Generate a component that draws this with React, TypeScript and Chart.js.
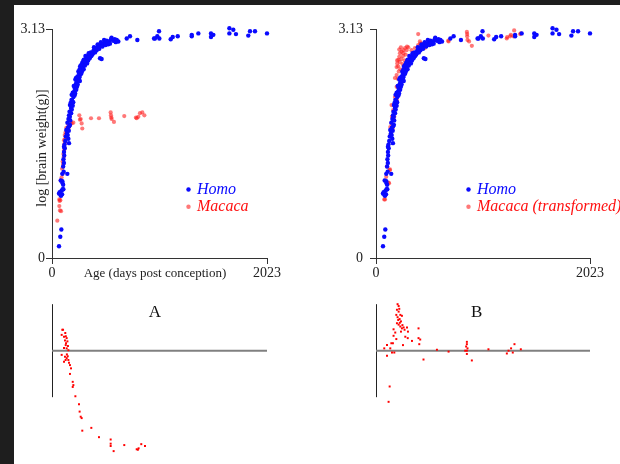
import React, { useEffect, useRef } from 'react';
import { Chart, registerables } from 'chart.js';
Chart.register(...registerables);

const X_MAX = 2023;
const Y_MAX = 3.13;
const xTickLabels = ['0', '2023'];
const yTickLabels = ['0', '3.13'];
const xAxisTitle = 'Age (days post conception)';
const yAxisTitle = 'log [brain weight(g)]';
const legendHomo = 'Homo';
const legendMacacaA = 'Macaca';
const legendMacacaB = 'Macaca (transformed)';
const panelA = 'A';
const panelB = 'B';

// Homo sapiens: [days post conception, log brain weight]
const homo: number[][] = [
  [66, 0.16], [78, 0.29], [88, 0.39],
  [66, 0.88], [72, 0.9], [80, 0.86], [90, 0.92], [95, 0.87], [100, 0.94], [107, 0.94], [85, 0.85],
  [82, 1.06], [97, 1.05], [100, 1.02], [105, 1.0],
  [97, 1.15], [144, 1.15], [110, 1.18],
  [105, 1.25], [112, 1.3], [108, 1.35], [115, 1.4], [113, 1.45], [120, 1.5], [113, 1.52], [118, 1.55], [160, 1.57], [125, 1.6],
  [154, 1.63], [130, 1.66], [140, 1.7], [135, 1.75], [150, 1.78], [169, 1.82], [145, 1.85], [160, 1.95], [155, 1.9],
  [165, 2.0], [179, 2.05], [169, 2.09], [175, 2.12], [190, 2.15], [201, 2.2], [185, 2.23], [195, 2.26], [210, 2.28],
  [216, 2.32], [205, 2.35], [225, 2.38], [232, 2.41], [220, 2.44], [226, 2.46], [240, 2.48], [263, 2.5], [248, 2.55],
  [255, 2.52], [270, 2.56], [279, 2.59], [265, 2.62], [290, 2.61], [295, 2.64], [285, 2.67], [305, 2.66], [311, 2.68],
  [300, 2.71], [320, 2.7], [326, 2.73], [315, 2.76], [335, 2.74], [342, 2.75], [350, 2.79], [357, 2.77], [365, 2.81],
  [373, 2.8], [380, 2.78], [389, 2.83], [400, 2.85], [395, 2.88], [414, 2.86], [420, 2.84], [436, 2.89], [430, 2.92],
  [450, 2.9], [467, 2.92], [460, 2.95], [480, 2.93], [499, 2.95], [490, 2.98], [515, 2.97], [530, 2.92], [540, 2.96],
  [555, 2.99], [560, 3.01], [577, 2.97], [590, 2.99], [609, 2.98], [624, 2.96], [452, 2.73], [467, 2.72],
  [148, 1.68], [158, 1.74], [162, 1.8], [172, 1.88], [168, 1.93], [180, 1.98], [186, 2.03], [195, 2.08], [183, 2.16],
  [200, 2.13], [212, 2.22], [218, 2.25], [228, 2.3], [235, 2.34], [242, 2.37], [238, 2.42], [250, 2.45], [258, 2.47],
  [262, 2.42], [275, 2.52], [282, 2.55], [260, 2.58], [298, 2.58], [275, 2.64], [310, 2.63], [330, 2.66], [296, 2.7],
  [340, 2.7], [355, 2.73], [345, 2.8], [370, 2.76], [385, 2.8], [405, 2.81], [425, 2.88], [445, 2.86], [475, 2.89],
  [505, 2.91], [520, 2.94], [545, 2.93], [600, 2.95],
  [703, 3.0], [734, 3.03], [803, 2.98], [960, 3.0], [969, 3.0], [991, 3.03], [1007, 3.1], [1010, 3.0], [1117, 2.99],
  [1136, 3.02], [1183, 3.03], [1315, 3.05], [1315, 3.03], [1377, 3.07], [1496, 3.07], [1518, 3.05], [1496, 3.02],
  [1669, 3.14], [1706, 3.12], [1669, 3.07], [1731, 3.06], [1863, 3.1], [1847, 3.04], [1910, 3.1], [2023, 3.07],
];

// Macaca: [days post conception, log brain weight]
const macaca: number[][] = [
  [50, 0.51], [69, 0.71], [75, 0.65], [69, 0.8], [72, 0.78], [78, 0.79], [85, 0.64],
  [82, 1.06], [90, 1.1], [100, 1.15], [95, 1.22], [105, 1.28], [100, 1.32], [110, 1.38], [107, 1.42], [113, 1.47],
  [120, 1.5], [115, 1.55], [122, 1.58], [113, 1.61], [125, 1.63], [130, 1.66], [120, 1.68], [138, 1.7], [128, 1.72],
  [145, 1.74], [154, 1.77], [135, 1.78], [160, 1.8], [169, 1.82], [150, 1.83], [185, 1.84], [201, 1.85], [175, 1.86],
  [257, 1.95], [263, 1.89], [270, 1.9], [279, 1.84], [285, 1.77], [367, 1.91], [442, 1.91], [552, 1.99], [555, 1.95],
  [558, 1.92], [561, 1.9], [583, 1.86], [680, 1.94], [790, 1.92], [797, 1.91], [812, 1.93], [828, 1.98], [850, 1.99],
  [869, 1.95],
];

// Macaca, transformed onto the human time scale
const macacaTransformed: number[][] = [
  [78, 0.8], [85, 0.8], [97, 1.11], [104, 1.25], [119, 1.03], [123, 1.02], [129, 1.2], [132, 1.21], [135, 1.79],
  [138, 1.68], [147, 1.84], [147, 2.09], [151, 1.93], [157, 1.77], [163, 2.02], [173, 1.93], [179, 2.2], [189, 2.07],
  [198, 2.16], [195, 2.34], [179, 2.46], [195, 2.5], [195, 2.61], [201, 2.66], [211, 2.71], [220, 2.75], [226, 2.8],
  [242, 2.82], [258, 2.84], [274, 2.87], [289, 2.84], [305, 2.88], [336, 2.84], [368, 2.87], [399, 2.91], [399, 3.06],
  [415, 2.96], [430, 2.93], [462, 2.87], [293, 2.89], [418, 2.93],
  [210, 2.62], [225, 2.68], [240, 2.72], [255, 2.76], [270, 2.7], [260, 2.8], [230, 2.58], [215, 2.55], [205, 2.45],
  [250, 2.65], [280, 2.78], [220, 2.85], [235, 2.88], [200, 2.7],
  [557, 2.98], [569, 2.98], [683, 2.97], [686, 2.96], [859, 3.09], [862, 3.06], [862, 3.03], [865, 2.98], [880, 2.96],
  [906, 2.9], [1063, 3.04], [1236, 3.0], [1240, 3.02], [1268, 3.03], [1275, 3.05], [1306, 3.11], [1300, 3.03],
  [1369, 3.07], [1362, 3.06],
];

// Residuals (arbitrary units), panel A
const residualA: number[][] = [
  [97, 0.45], [104, 0.45], [91, 0.34], [113, 0.3], [130, 0.31], [138, 0.27], [122, 0.22], [145, 0.2], [129, 0.12],
  [113, 0.06], [138, 0.05], [154, 0.01], [91, -0.09], [122, -0.13], [138, -0.16], [154, -0.2], [113, -0.24],
  [160, -0.26], [169, -0.31], [179, -0.38], [169, -0.5], [195, -0.67], [201, -0.74], [195, -0.78], [220, -0.98],
  [254, -1.15], [260, -1.31], [270, -1.42], [279, -1.45], [370, -1.66], [285, -1.72], [442, -1.86], [552, -1.91],
  [552, -2.0], [552, -2.05], [580, -2.16], [680, -2.03], [797, -2.12], [815, -2.1], [808, -2.13], [840, -2.01],
  [875, -2.05], [125, 0.38], [132, 0.16], [140, -0.08], [148, -0.12], [150, 0.1], [128, -0.2],
];

// Residuals (arbitrary units), panel B
const residualB: number[][] = [
  [204, 1.0], [214, 0.96], [198, 0.88], [214, 0.84], [192, 0.77], [230, 0.77], [245, 0.75], [204, 0.72], [223, 0.68],
  [236, 0.63], [198, 0.59], [214, 0.56], [230, 0.52], [245, 0.48], [261, 0.5], [293, 0.5], [302, 0.41], [236, 0.41],
  [166, 0.46], [182, 0.39], [277, 0.3], [300, 0.27], [166, 0.32], [192, 0.25], [160, 0.16], [145, 0.16], [104, 0.12],
  [78, 0.05], [135, 0.05], [151, -0.04], [173, -0.04], [104, -0.11], [255, 0.12], [340, 0.21], [402, 0.48],
  [402, 0.27], [418, 0.24], [409, 0.14], [449, -0.19], [576, 0.02], [686, -0.02], [859, 0.19], [859, 0.14],
  [852, 0.09], [865, 0.05], [859, 0.0], [843, 0.0], [859, -0.07], [906, -0.21], [1063, 0.03], [1237, -0.06],
  [1253, 0.0], [1277, 0.05], [1293, -0.04], [1309, 0.14], [1369, 0.03], [129, -0.77], [119, -1.1],
  [210, 0.66], [220, 0.9], [225, 0.6], [250, 0.55], [270, 0.45],
];

const SERIF = '"Liberation Serif", "Times New Roman", serif';
const BLUE = '#0a0aff';
const RED_SOFT = 'rgba(255,30,30,0.6)';
const RED = '#ff0000';

const toPts = (arr: number[][]) => arr.map(([x, y]) => ({ x, y }));

type TopOpts = {
  padLeft: number;
  padRight: number;
  yTickPad: number;
  redData: number[][];
  redLabel: string;
  showTitles: boolean;
  legendX: number;
};

function topConfig(o: TopOpts): any {
  const textPlugin = {
    id: 'texts',
    afterDraw(chart: any) {
      const ctx = chart.ctx;
      const ca = chart.chartArea;
      ctx.save();
      if (o.showTitles) {
        ctx.fillStyle = '#222';
        ctx.font = `14px ${SERIF}`;
        ctx.textAlign = 'center';
        ctx.textBaseline = 'middle';
        ctx.save();
        ctx.translate(42, 148);
        ctx.rotate(-Math.PI / 2);
        ctx.fillText(yAxisTitle, 0, 0);
        ctx.restore();
        ctx.font = `13px ${SERIF}`;
        ctx.textBaseline = 'alphabetic';
        ctx.fillText(xAxisTitle, 155, 277);
      }
      // legend
      const lx = o.legendX;
      ctx.textAlign = 'left';
      ctx.textBaseline = 'alphabetic';
      ctx.font = `italic 16px ${SERIF}`;
      ctx.fillStyle = BLUE;
      ctx.beginPath();
      ctx.arc(lx, 189.5, 2.2, 0, Math.PI * 2);
      ctx.fill();
      ctx.fillText(legendHomo, lx + 8.5, 193.5);
      ctx.fillStyle = RED_SOFT;
      ctx.beginPath();
      ctx.arc(lx, 206.7, 2.2, 0, Math.PI * 2);
      ctx.fill();
      ctx.fillStyle = '#ff1010';
      ctx.fillText(o.redLabel, lx + 8.5, 210.5);
      ctx.restore();
    },
  };
  return {
    type: 'scatter',
    data: {
      datasets: [
        {
          label: legendHomo,
          data: toPts(homo),
          backgroundColor: BLUE,
          borderWidth: 0,
          pointRadius: 2.2,
          clip: false,
        },
        {
          label: o.redLabel,
          data: toPts(o.redData),
          backgroundColor: RED_SOFT,
          borderWidth: 0,
          pointRadius: 2.1,
          clip: false,
        },
      ],
    },
    options: {
      animation: false,
      responsive: false,
      devicePixelRatio: 1,
      layout: { padding: { left: o.padLeft, right: o.padRight, top: 29, bottom: 2 } },
      plugins: { legend: { display: false }, tooltip: { enabled: false }, title: { display: false } },
      scales: {
        x: {
          type: 'linear',
          min: 0,
          max: X_MAX,
          afterBuildTicks: (s: any) => {
            s.ticks = [{ value: 0 }, { value: X_MAX }];
          },
          afterFit: (s: any) => {
            s.height = 30;
          },
          ticks: {
            autoSkip: false,
            maxRotation: 0,
            padding: 1,
            color: '#222',
            font: { family: SERIF, size: 14 },
            callback: (v: number) => (v === 0 ? xTickLabels[0] : xTickLabels[1]),
          },
          grid: { drawOnChartArea: false, tickLength: 6, color: '#333', lineWidth: 1 },
          border: { color: '#333', width: 1 },
        },
        y: {
          type: 'linear',
          min: 0,
          max: Y_MAX,
          afterBuildTicks: (s: any) => {
            s.ticks = [{ value: 0 }, { value: Y_MAX }];
          },
          afterFit: (s: any) => {
            s.width = 40;
          },
          ticks: {
            autoSkip: false,
            padding: o.yTickPad,
            color: '#222',
            font: { family: SERIF, size: 14 },
            callback: (v: number) => (v === 0 ? yTickLabels[0] : yTickLabels[1]),
          },
          grid: { drawOnChartArea: false, tickLength: 6, color: '#333', lineWidth: 1 },
          border: { color: '#333', width: 1 },
        },
      },
    },
    plugins: [textPlugin],
  };
}

function residConfig(data: number[][], padLeft: number, padRight: number, label: string, labelX: number): any {
  const axesPlugin = {
    id: 'residAxes',
    beforeDatasetsDraw(chart: any) {
      const ctx = chart.ctx;
      const ca = chart.chartArea;
      const y = chart.scales.y;
      ctx.save();
      ctx.strokeStyle = '#222';
      ctx.lineWidth = 1;
      ctx.beginPath();
      ctx.moveTo(ca.left + 0.5, y.getPixelForValue(1));
      ctx.lineTo(ca.left + 0.5, y.getPixelForValue(-1));
      ctx.stroke();
      ctx.strokeStyle = '#808080';
      ctx.lineWidth = 2;
      ctx.beginPath();
      ctx.moveTo(ca.left, y.getPixelForValue(0));
      ctx.lineTo(ca.right, y.getPixelForValue(0));
      ctx.stroke();
      ctx.fillStyle = '#111';
      ctx.font = `17px ${SERIF}`;
      ctx.textAlign = 'center';
      ctx.textBaseline = 'alphabetic';
      ctx.fillText(label, labelX, 27);
      ctx.restore();
    },
  };
  return {
    type: 'scatter',
    data: {
      datasets: [
        {
          label: 'residual',
          data: toPts(data),
          backgroundColor: RED,
          borderWidth: 0,
          pointStyle: 'rect',
          pointRadius: 1.4,
          clip: false,
        },
      ],
    },
    options: {
      animation: false,
      responsive: false,
      devicePixelRatio: 1,
      layout: { padding: { left: padLeft, right: padRight, top: 10, bottom: 4 } },
      plugins: { legend: { display: false }, tooltip: { enabled: false } },
      scales: {
        x: { type: 'linear', min: 0, max: X_MAX, display: false },
        y: { type: 'linear', min: -2.351, max: 1.09, display: false },
      },
    },
    plugins: [axesPlugin],
  };
}

function ChartCanvas({ config, left, top, width, height }: any) {
  const ref = useRef<HTMLCanvasElement | null>(null);
  useEffect(() => {
    if (!ref.current) return;
    const chart = new Chart(ref.current, config);
    return () => chart.destroy();
  }, [config]);
  return (
    <canvas
      ref={ref}
      width={width}
      height={height}
      style={{ position: 'absolute', left, top, width, height, display: 'block' }}
    />
  );
}

const cfgTL = topConfig({
  padLeft: 12,
  padRight: 43,
  yTickPad: 1,
  redData: macaca,
  redLabel: legendMacacaA,
  showTitles: true,
  legendX: 188.5,
});
const cfgTR = topConfig({
  padLeft: 26,
  padRight: 30,
  yTickPad: 7,
  redData: macacaTransformed,
  redLabel: legendMacacaB,
  showTitles: false,
  legendX: 158.5,
});
const cfgBL = residConfig(residualA, 52, 43, panelA, 155);
const cfgBR = residConfig(residualB, 66, 30, panelB, 166.7);

export default function App() {
  return (
    <div style={{ position: 'fixed', left: 0, top: 0, width: 620, height: 464, background: '#1e1e1e', overflow: 'hidden' }}>
      <div style={{ position: 'absolute', left: 14, top: 5, width: 606, height: 459, background: '#ffffff' }} />
      <ChartCanvas config={cfgTL} left={0} top={0} width={310} height={290} />
      <ChartCanvas config={cfgTR} left={310} top={0} width={310} height={290} />
      <ChartCanvas config={cfgBL} left={0} top={290} width={310} height={174} />
      <ChartCanvas config={cfgBR} left={310} top={290} width={310} height={174} />
    </div>
  );
}
